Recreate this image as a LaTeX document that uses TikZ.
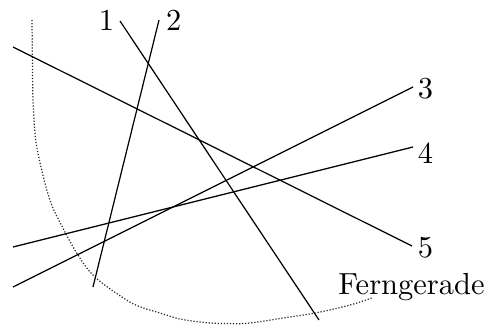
\documentclass[tikz,border=0pt]{standalone}
\begin{document}
\begin{tikzpicture}[x=0.3279pt,y=-0.3279pt,
  ln/.style={line width=0.4pt, black},
  farcurve/.style={line width=0.4pt, dash pattern=on 0.4pt off 0.6pt, black!85},
  lbl/.style={inner sep=0pt, anchor=base}]
\useasboundingbox (0,0) rectangle (489,324);
% dotted conic arc
\draw[farcurve] plot[smooth, tension=0.6] coordinates {(32,20) (32.4,60) (33,100) (35,133) (37.3,150) (41.7,170) (46,187) (51,203) (57.7,218) (76.7,253) (95,277) (125,299) (140,306.7) (160,313) (180,319) (207,322.7) (230,323.6) (250,323) (283,318) (316.7,312.7) (350,305) (371.7,298)};
% end points
\coordinate (a1) at (120,21);  \coordinate (b1) at (319,320);
\coordinate (a2) at (159,20);  \coordinate (b2) at (93,287);
\coordinate (a3) at (13,287);  \coordinate (b3) at (413,87);
\coordinate (a4) at (13,247);  \coordinate (b4) at (413,147);
\coordinate (a5) at (13,47);   \coordinate (b5) at (412,246);
\draw[ln] (a1) -- (b1);
\draw[ln] (a2) -- (b2);
\draw[ln] (a3) -- (b3);
\draw[ln] (a4) -- (b4);
\draw[ln] (a5) -- (b5);
% labels
\node[lbl] (l1) at (106.5,31) {1};
\node[lbl] (l2) at (173.7,31) {2};
\node[lbl] (l3) at (425.5,98.5) {3};
\node[lbl] (l4) at (425.5,163) {4};
\node[lbl] (l5) at (425.5,257.5) {5};
\node[lbl] (lf) at (411.5,294.5) {Ferngerade};
\end{tikzpicture}
\end{document}
